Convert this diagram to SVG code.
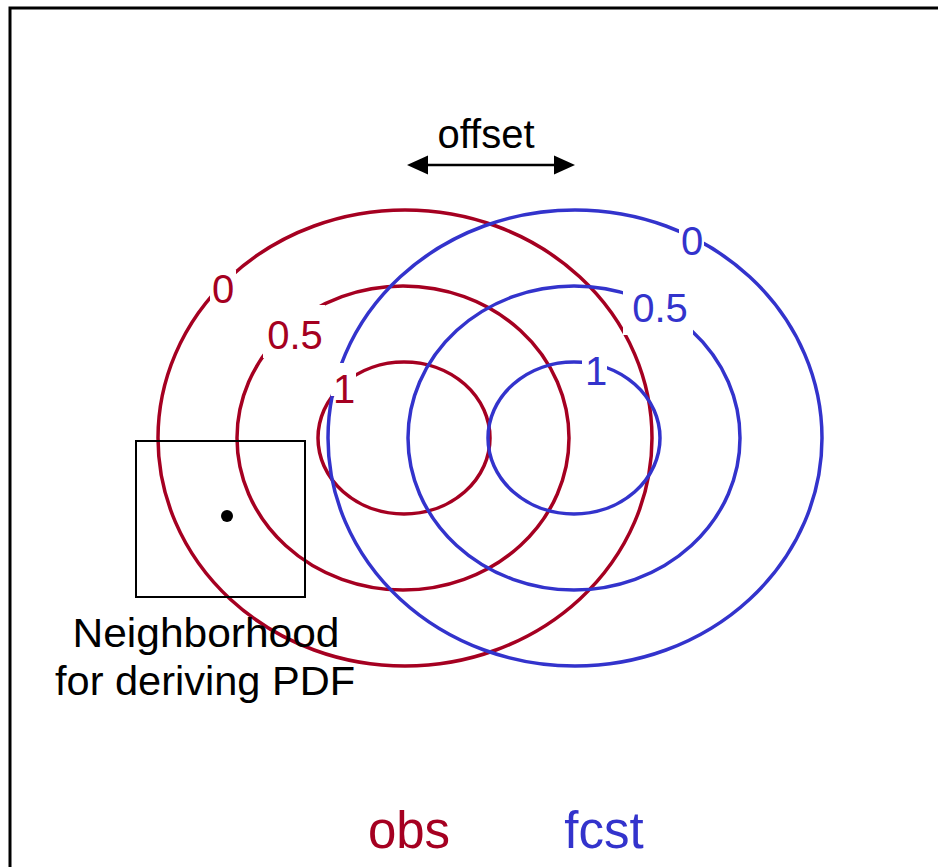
<svg xmlns="http://www.w3.org/2000/svg" width="938" height="867" viewBox="0 0 938 867">
  <defs>
    <marker id="head" viewBox="0 0 20 20" refX="20" refY="10" markerWidth="20" markerHeight="20" markerUnits="userSpaceOnUse" orient="auto-start-reverse">
      <path d="M0,0 L20,10 L0,20 Z" fill="#000"/>
    </marker>
  </defs>
  <style>
    .obs { fill: none; stroke: #A50021; stroke-width: 3.5; }
    .fcst { fill: none; stroke: #3333CC; stroke-width: 3.5; }
    .t { font-family: "Liberation Sans", Arial, sans-serif; text-anchor: middle; }
    .lab { font-size: 40px; }
    .red { fill: #A50021; }
    .blue { fill: #3333CC; }
    .knock { fill: #fff; stroke: none; }
  </style>
  <rect width="938" height="867" fill="#fff"/>
  <!-- outer frame -->
  <rect x="10" y="8" width="960" height="900" fill="none" stroke="#000" stroke-width="3"/>

  <!-- observed field contours -->
  <g id="obs-contours">
    <ellipse class="obs" cx="405" cy="438" rx="247" ry="228"/>
    <ellipse class="obs" cx="403" cy="438" rx="166" ry="152"/>
    <ellipse class="obs" cx="404" cy="438" rx="86" ry="76"/>
  </g>
  <!-- forecast field contours -->
  <g id="fcst-contours">
    <ellipse class="fcst" cx="575" cy="438" rx="247" ry="228"/>
    <ellipse class="fcst" cx="574" cy="438" rx="166" ry="152"/>
    <ellipse class="fcst" cx="574" cy="438" rx="86" ry="76"/>
  </g>

  <!-- contour labels (white boxes open gaps in the lines) -->
  <g id="obs-labels">
    <rect class="knock" x="210" y="270" width="26" height="33"/>
    <rect class="knock" x="263" y="305" width="62" height="53"/>
    <rect class="knock" x="331" y="363" width="25" height="33"/>
    <text class="t lab red" x="223" y="303">0</text>
    <text class="t lab red" x="295" y="349">0.5</text>
    <text class="t lab red" x="344" y="403">1</text>
  </g>
  <g id="fcst-labels">
    <rect class="knock" x="679" y="224" width="25" height="34"/>
    <rect class="knock" x="623" y="285" width="70" height="50"/>
    <rect class="knock" x="582" y="355" width="25" height="33"/>
    <text class="t lab blue" x="692" y="255">0</text>
    <text class="t lab blue" x="660" y="322">0.5</text>
    <text class="t lab blue" x="596" y="385">1</text>
  </g>

  <!-- offset arrow -->
  <g id="connectors">
    <line x1="428" y1="165" x2="554" y2="165" stroke="#000" stroke-width="2.5"/>
    <path d="M407,165 L428,155.5 L428,174.5 Z" fill="#000"/>
    <path d="M575,165 L554,155.5 L554,174.5 Z" fill="#000"/>
  </g>
  <g id="offset-label">
    <text class="t lab" x="486" y="148" fill="#000">offset</text>
  </g>

  <!-- neighborhood window -->
  <g id="neighborhood">
    <rect x="136" y="441" width="169" height="156" fill="none" stroke="#000" stroke-width="2"/>
    <circle cx="227" cy="516" r="6" fill="#000"/>
    <text class="t lab" x="206" y="647" fill="#000" textLength="267" lengthAdjust="spacingAndGlyphs">Neighborhood</text>
    <text class="t lab" x="205" y="695" fill="#000" textLength="300" lengthAdjust="spacingAndGlyphs">for deriving PDF</text>
  </g>

  <!-- legend -->
  <g id="legend">
    <text class="t red" x="409" y="848" font-size="51">obs</text>
    <text class="t blue" x="604" y="848" font-size="51">fcst</text>
  </g>
</svg>
